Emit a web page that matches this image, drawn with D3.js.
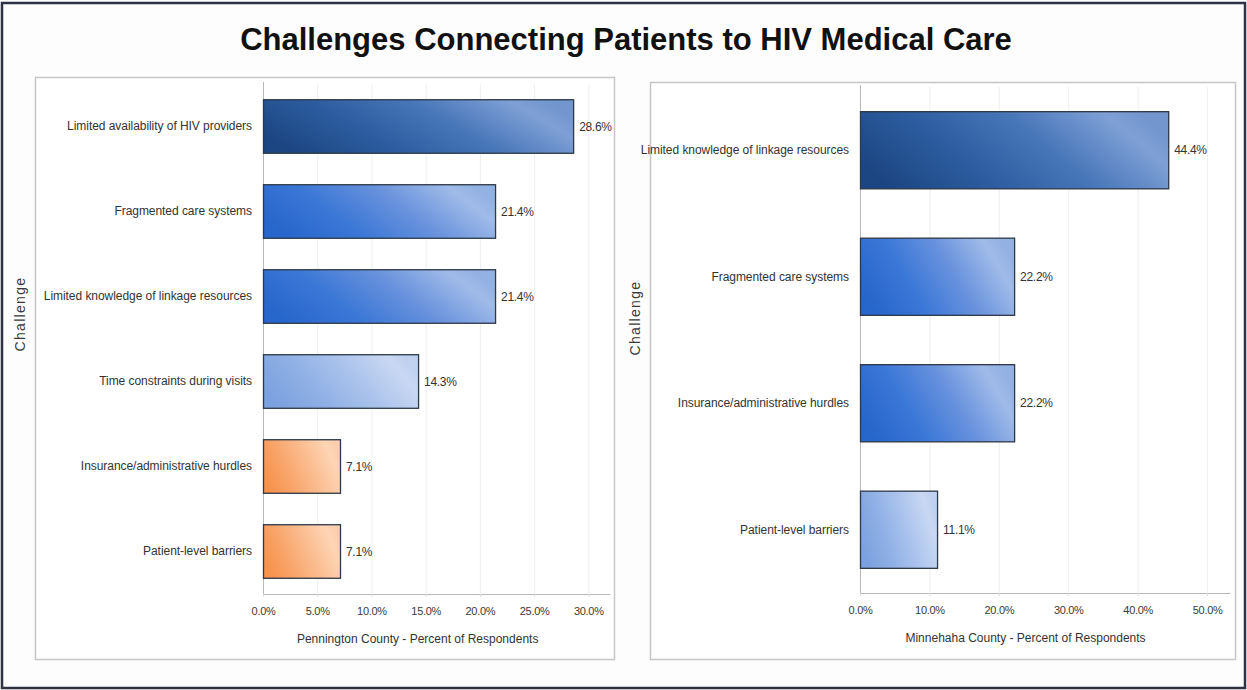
<!DOCTYPE html>
<html>
<head>
<meta charset="utf-8">
<script src="https://cdn.jsdelivr.net/npm/d3@7/dist/d3.min.js"></script>
<style>
body { margin: 0; background: #ffffff; }
text { font-family: "Liberation Sans", Arial, sans-serif; }
</style>
</head>
<body>
<div id="chart-area"></div>
<script>
// data
var penningtonChallenges = [
    "Limited availability of HIV providers",
    "Fragmented care systems",
    "Limited knowledge of linkage resources",
    "Time constraints during visits",
    "Insurance/administrative hurdles",
    "Patient-level barriers"
];
var penningtonValues = [28.6, 21.4, 21.4, 14.3, 7.1, 7.1];
var penningtonTicks = [0, 5, 10, 15, 20, 25, 30];

var minnehahaChallenges = [
    "Limited knowledge of linkage resources",
    "Fragmented care systems",
    "Insurance/administrative hurdles",
    "Patient-level barriers"
];
var minnehahaValues = [44.4, 22.2, 22.2, 11.1];
var minnehahaTicks = [0, 10, 20, 30, 40, 50];

var chartTitle = "Challenges Connecting Patients to HIV Medical Care";


function BarPanel(svg, challenges, values, ticks, opts) {
    var self = this;
    self.svg = svg;
    self.challenges = challenges;
    self.values = values;
    self.ticks = ticks;
    self.opts = opts;
    self.init();
}

BarPanel.prototype.init = function() {
    var self = this;
    var o = self.opts;

    self.g = self.svg.append("g");

    // panel frame
    self.g.append("rect")
        .attr("x", o.box[0] + 0.5)
        .attr("y", o.box[1] + 0.5)
        .attr("width", o.box[2])
        .attr("height", o.box[3])
        .attr("fill", "#ffffff")
        .attr("stroke", "#c6c6c6")
        .attr("stroke-width", 1.5);

    self.x = d3.scaleLinear()
        .domain([0, o.xMax])
        .range(o.xRange);

    self.y = d3.scaleBand()
        .domain(self.challenges)
        .range(o.yRange)
        .paddingInner(o.pad)
        .paddingOuter(o.pad / 2);

    self.render();
};

BarPanel.prototype.render = function() {
    var self = this;
    var o = self.opts;
    var x = self.x, y = self.y;
    var axisY = o.yRange[1];

    // colour tier by value
    var fillFor = d3.scaleThreshold()
        .domain([10, 20, 25])
        .range(["url(#grad-orange)", "url(#grad-light)", "url(#grad-mid)", "url(#grad-dark)"]);

    // faint vertical gridlines
    self.g.selectAll(".grid")
        .data(self.ticks.slice(1))
        .enter()
        .append("line")
        .attr("class", "grid")
        .attr("x1", function(d) { return x(d) + 0.5; })
        .attr("x2", function(d) { return x(d) + 0.5; })
        .attr("y1", o.yRange[0])
        .attr("y2", axisY)
        .attr("stroke", "#eeeeee")
        .attr("stroke-width", 1);

    var xAxis = d3.axisBottom(x)
        .tickValues(self.ticks)
        .tickFormat(function(d) { return d.toFixed(1) + "%"; })
        .tickSize(3)
        .tickSizeOuter(0)
        .tickPadding(10);

    var xg = self.g.append("g")
        .attr("transform", "translate(0," + axisY + ")")
        .call(xAxis);
    xg.select(".domain").attr("stroke", "#b8b8b8");
    xg.selectAll(".tick line").attr("stroke", "#dddddd");
    xg.selectAll(".tick text")
        .attr("fill", "#3a3a3a")
        .style("font-size", "11px")
        .style("letter-spacing", "-0.3px");

    var yAxis = d3.axisLeft(y)
        .tickSize(0)
        .tickSizeOuter(0)
        .tickPadding(11);

    var yg = self.g.append("g")
        .attr("transform", "translate(" + x(0) + ",0)")
        .call(yAxis);
    yg.select(".domain")
        .attr("d", "M0.5," + (o.yRange[0] - 2) + "V" + axisY)
        .attr("stroke", "#b8b8b8");
    yg.selectAll(".tick text")
        .attr("fill", "#333333")
        .style("font-size", "12px")
        .style("letter-spacing", "-0.05px");

    // bars
    self.g.selectAll(".bar")
        .data(self.challenges)
        .enter()
        .append("rect")
        .attr("class", "bar")
        .attr("x", x(0) + 0.5)
        .attr("y", function(d) { return y(d); })
        .attr("width", function(d, i) { return x(self.values[i]) - x(0); })
        .attr("height", y.bandwidth())
        .attr("fill", function(d, i) { return fillFor(self.values[i]); })
        .attr("stroke", "#2e3846")
        .attr("stroke-width", 1.3);

    // value labels
    self.g.selectAll(".value")
        .data(self.challenges)
        .enter()
        .append("text")
        .attr("class", "value")
        .attr("x", function(d, i) { return x(self.values[i]) + 6; })
        .attr("y", function(d) { return y(d) + y.bandwidth() / 2; })
        .attr("dy", "0.35em")
        .attr("fill", "#333333")
        .style("font-size", "12px")
        .style("letter-spacing", "-0.3px")
        .text(function(d, i) { return self.values[i].toFixed(1) + "%"; });

    // axis titles
    var lastTick = self.ticks[self.ticks.length - 1];
    self.g.append("text")
        .attr("x", (x(0) + x(lastTick)) / 2 - 8)
        .attr("y", axisY + 49)
        .attr("text-anchor", "middle")
        .attr("fill", "#333333")
        .style("font-size", "12px")
        .text(o.xTitle);

    self.g.append("text")
        .attr("transform", "translate(" + (o.box[0] - 10) + "," + o.yTitleY + ") rotate(-90)")
        .attr("text-anchor", "middle")
        .attr("fill", "#3a3a3a")
        .style("font-size", "14px")
        .style("letter-spacing", "1.3px")
        .text("Challenge");
};


var width = 1247;
var height = 690;

var svg = d3.select("#chart-area").append("svg")
    .attr("width", width)
    .attr("height", height);

// bar gradients, dark at the left going lighter to the right
var gradDefs = [
    { id: "grad-dark",   stops: ["#1c4682", "#2c5c9f", "#4675b8", "#7fa0d6", "#7396cf"] },
    { id: "grad-mid",    stops: ["#2766cb", "#3a77d6", "#6791dc", "#a0bbe8", "#93b1e3"] },
    { id: "grad-light",  stops: ["#7ca1df", "#8fb0e5", "#abc3ec", "#c9d8f2", "#bfd1f0"] },
    { id: "grad-orange", stops: ["#f6924c", "#f8a66d", "#fabd91", "#fdd5b6", "#fccfae"] }
];
var defs = svg.append("defs");
gradDefs.forEach(function(gd) {
    var lg = defs.append("linearGradient")
        .attr("id", gd.id)
        .attr("x1", 0).attr("y1", 0.65)
        .attr("x2", 1).attr("y2", 0.35);
    var offs = [0, 0.3, 0.6, 0.9, 1];
    gd.stops.forEach(function(c, i) {
        lg.append("stop")
            .attr("offset", (offs[i] * 100) + "%")
            .attr("stop-color", c);
    });
});

// page background and outer frame
svg.append("rect")
    .attr("x", 0).attr("y", 0)
    .attr("width", width).attr("height", height)
    .attr("fill", "#fdfdfe");

svg.append("rect")
    .attr("x", 2).attr("y", 3)
    .attr("width", width - 4).attr("height", height - 5)
    .attr("fill", "none")
    .attr("stroke", "#2f3242")
    .attr("stroke-width", 2.5);

svg.append("text")
    .attr("x", 626)
    .attr("y", 50)
    .attr("text-anchor", "middle")
    .attr("fill", "#111111")
    .style("font-size", "31px")
    .style("font-weight", "bold")
    .text(chartTitle);

var leftPanel = new BarPanel(svg, penningtonChallenges, penningtonValues, penningtonTicks, {
    box: [35, 77, 579, 582],
    xMax: 32,
    xRange: [263, 610],
    yRange: [84, 594],
    pad: 0.37,
    xTitle: "Pennington County - Percent of Respondents",
    yTitleY: 314
});

var rightPanel = new BarPanel(svg, minnehahaChallenges, minnehahaValues, minnehahaTicks, {
    box: [650, 82, 585, 577],
    xMax: 53.3,
    xRange: [860, 1230],
    yRange: [87, 593],
    pad: 0.39,
    xTitle: "Minnehaha County - Percent of Respondents",
    yTitleY: 318
});
</script>
</body>
</html>
